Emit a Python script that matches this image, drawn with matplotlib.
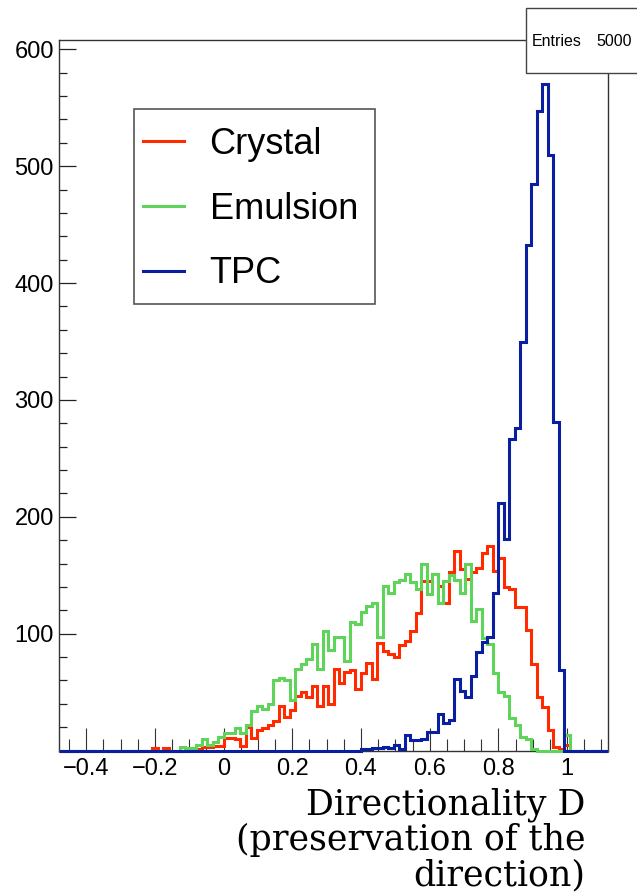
import numpy as np
import matplotlib
matplotlib.use("Agg")
import matplotlib.pyplot as plt
from matplotlib.patches import Rectangle
from matplotlib.lines import Line2D
from matplotlib.ticker import FixedLocator, MultipleLocator

# ---- histogram definition: 100 bins on [-0.48, 1.12] ----
n_bins = 100
x_min, x_max = -0.48, 1.12

# bin contents, ten bins per row
crystal_counts = [
    0, 0, 0, 0, 0, 0, 0, 0, 0, 0,
    0, 0, 0, 0, 0, 0, 0, 2, 0, 2,
    0, 0, 0, 0, 1, 1, 3, 3, 4, 4,
    11, 11, 10, 4, 20, 11, 18, 19, 22, 25,
    38, 29, 35, 47, 50, 46, 55, 38, 55, 40,
    70, 58, 67, 69, 53, 66, 75, 61, 92, 85,
    83, 80, 90, 94, 102, 118, 145, 145, 151, 141,
    126, 153, 171, 155, 147, 153, 156, 169, 175, 154,
    165, 140, 138, 123, 123, 103, 74, 46, 37, 18,
    3, 1, 5, 0, 0, 0, 0, 0, 0, 0,
]
emulsion_counts = [
    0, 0, 0, 0, 0, 0, 0, 0, 0, 0,
    0, 0, 0, 0, 0, 0, 0, 0, 0, 0,
    0, 0, 3, 2, 2, 5, 10, 5, 7, 12,
    15, 15, 19, 15, 22, 34, 38, 36, 40, 60,
    62, 60, 43, 70, 74, 78, 91, 70, 102, 86,
    97, 97, 77, 110, 108, 119, 124, 126, 97, 141,
    135, 144, 146, 151, 144, 138, 160, 134, 151, 126,
    145, 150, 146, 135, 160, 111, 121, 96, 91, 66,
    50, 47, 28, 22, 12, 10, 1, 0, 0, 0,
    0, 0, 13, 0, 0, 0, 0, 0, 0, 0,
]
tpc_counts = [
    0, 0, 0, 0, 0, 0, 0, 0, 0, 0,
    0, 0, 0, 0, 0, 0, 0, 0, 0, 0,
    0, 0, 0, 0, 0, 0, 0, 0, 0, 0,
    0, 0, 0, 0, 0, 0, 0, 0, 0, 0,
    0, 0, 0, 0, 0, 0, 0, 0, 0, 0,
    0, 0, 0, 0, 0, 1, 1, 2, 2, 3,
    2, 5, 1, 13, 9, 9, 10, 16, 16, 31,
    24, 26, 61, 51, 46, 64, 84, 93, 97, 135,
    212, 181, 267, 276, 350, 433, 485, 547, 570, 510,
    281, 69, 0, 0, 0, 0, 0, 0, 0, 0,
]

series_names = ["Crystal", "Emulsion", "TPC"]
series_colors = ["#ff2a00", "#5ed45a", "#0a1ea0"]
n_entries = 5000

x_major_ticks = [-0.4, -0.2, 0.0, 0.2, 0.4, 0.6, 0.8, 1.0]
x_tick_labels = ["\u22120.4", "\u22120.2", "0", "0.2", "0.4", "0.6", "0.8", "1"]
y_major_ticks = [100, 200, 300, 400, 500, 600]
y_max = 608

x_title = "Directionality D\n(preservation of the\ndirection)"

# ---- figure ----
W, H = 637, 892
fig = plt.figure(figsize=(W / 100, H / 100), dpi=100)
fig.patch.set_facecolor("white")

left_px, right_px, top_px, bottom_px = 58.7, 608.3, 40.0, 750.6
ax = fig.add_axes([left_px / W, 1 - bottom_px / H,
                   (right_px - left_px) / W, (bottom_px - top_px) / H])

edges = np.linspace(x_min, x_max, n_bins + 1)
for counts, color in zip([crystal_counts, emulsion_counts, tpc_counts], series_colors):
    ax.stairs(counts, edges, color=color, linewidth=2.2, clip_on=False, zorder=3)

ax.set_xlim(x_min, x_max)
ax.set_ylim(0, y_max)

label_font = "Liberation Sans"

ax.xaxis.set_major_locator(FixedLocator(x_major_ticks))
ax.set_xticklabels(x_tick_labels, family=label_font, fontsize=17)
ax.xaxis.set_minor_locator(MultipleLocator(0.05))
ax.yaxis.set_major_locator(FixedLocator(y_major_ticks))
ax.set_yticklabels([str(v) for v in y_major_ticks], family=label_font, fontsize=17)
ax.yaxis.set_minor_locator(MultipleLocator(20))

ax.tick_params(axis="x", which="major", direction="in", length=16.3, width=0.8,
               pad=5.5, top=False, color="#333333")
ax.tick_params(axis="x", which="minor", direction="in", length=8.6, width=0.8,
               top=False, color="#333333")
ax.tick_params(axis="y", which="major", direction="in", length=12.2, width=0.9,
               pad=3.5, right=False, color="#222222")
ax.tick_params(axis="y", which="minor", direction="in", length=5.8, width=0.9,
               right=False, color="#222222")
for sp in ax.spines.values():
    sp.set_linewidth(1.0)
    sp.set_color("#333333")

# ---- legend ----
ax.add_patch(Rectangle((134 / W, 1 - 304 / H), (375 - 134) / W, (304 - 109.3) / H,
                       transform=fig.transFigure, facecolor="white",
                       edgecolor="#555555", linewidth=1.2, zorder=5, clip_on=False))
handles = [Line2D([], [], color=c, linewidth=2.2) for c in series_colors]
leg = ax.legend(handles, series_names, loc="upper left",
                bbox_to_anchor=(142.7 / W, 1 - 127 / H), bbox_transform=fig.transFigure,
                frameon=False, borderpad=0, borderaxespad=0,
                handlelength=1.15, handletextpad=0.7, labelspacing=0.82,
                prop={"family": "Liberation Sans", "size": 26})
leg.set_zorder(6)

# ---- statistics box ----
fig.add_artist(Rectangle((526 / W, 1 - 72.7 / H), (645 - 526) / W, (72.7 - 8.3) / H,
                         transform=fig.transFigure, facecolor="white",
                         edgecolor="#444444", linewidth=1.0, zorder=10))
fig.text(531.7 / W, 1 - 41 / H, "Entries", ha="left", va="center",
         family=label_font, fontsize=11.5, zorder=11)
fig.text(631.7 / W, 1 - 41 / H, f"{n_entries}", ha="right", va="center",
         family=label_font, fontsize=11.5, zorder=11)

# ---- axis title ----
fig.text(585 / W, 1 - 787 / H, x_title, ha="right", va="top", multialignment="right",
         family="DejaVu Serif", fontsize=25, linespacing=1.05)

fig.savefig("out.png", dpi=100, facecolor="white")
